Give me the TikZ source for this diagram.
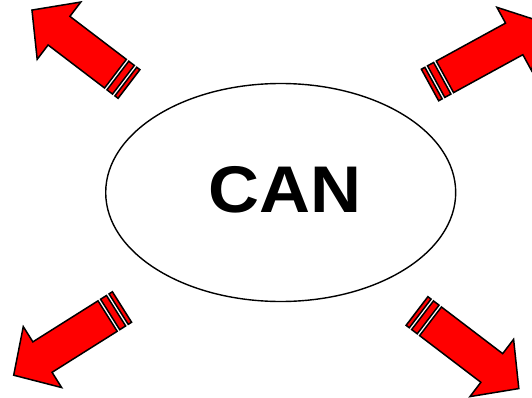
\documentclass[tikz,border=0pt]{standalone}
\usepackage{fontspec}
\setmainfont{Liberation Sans}
\usetikzlibrary{shapes.geometric}
\begin{document}
\begin{tikzpicture}[
    x=1pt, y=-1pt,
    % Style definitions
    arrowpart/.style={draw=black, fill=red, line width=1.5pt, line join=miter},
    hub/.style={ellipse, draw=black, line width=1.4pt, minimum width=350pt, minimum height=218pt, inner sep=0pt},
    label/.style={font=\fontsize{66}{66}\selectfont\bfseries, inner sep=0pt, xscale=1.07},
    pics/stripedarrow/.style={code={
        \draw[arrowpart] (0,-18) rectangle (4,18);
        \draw[arrowpart] (7,-18) rectangle (14,18);
        \draw[arrowpart] (17,-18) -- (#1-34,-18) -- (#1-34,-36) -- (#1,0)
            -- (#1-34,36) -- (#1-34,18) -- (17,18) -- cycle;
    }},
]
\useasboundingbox (0,0) rectangle (532,398);

% Centre
\node[hub] (can) at (280.7,192.5) {};
\node[label] (cantext) at (285,190) {CAN};

% Arrows pointing outwards
\pic[rotate=142.7] (tl) at (129,84) {stripedarrow=122};
\pic[rotate=28.7] (tr) at (430,85) {stripedarrow=130};
\pic[rotate=212.2] (bl) at (122,307) {stripedarrow=128};
\pic[rotate=-37.3] (br) at (417,311) {stripedarrow=128};

\end{tikzpicture}
\end{document}
